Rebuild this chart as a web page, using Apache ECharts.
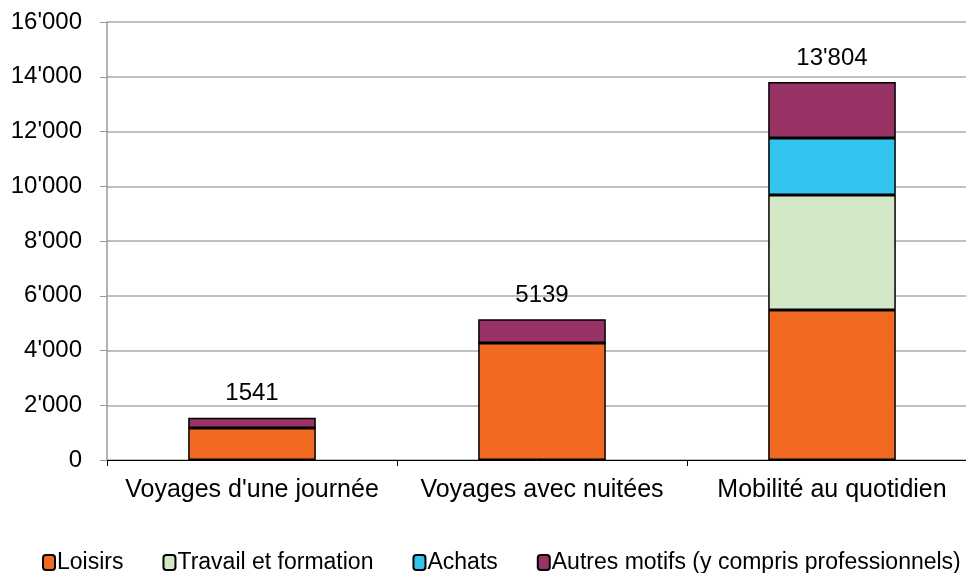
<!DOCTYPE html>
<html>
<head>
<meta charset="utf-8">
<script src="https://cdn.jsdelivr.net/npm/echarts@6/dist/echarts.min.js"></script>
<style>
  html, body { margin: 0; padding: 0; background: #fff; }
  #main { width: 966px; height: 573px; }
</style>
</head>
<body>
<div id="main"></div>
<script>
var categories = ["Voyages d'une journée", 'Voyages avec nuitées', 'Mobilité au quotidien']
var loisirs = [1170, 4270, 5480]
var travail = [0, 0, 4200]
var achats = [0, 0, 2080]
var autres = [371, 869, 2044]
var totalLabels = ['1541', '5139', "13'804"]
var yTicks = [0, 2000, 4000, 6000, 8000, 10000, 12000, 14000, 16000]

var font = 'Liberation Sans, Arial, sans-serif'

function fmt(v) {
  if (v < 1000) return String(v)
  var s = String(v)
  return s.slice(0, s.length - 3) + "'" + s.slice(s.length - 3)
}

var myChart = echarts.init(document.getElementById('main'))

var barStyle = { borderColor: '#000', borderWidth: 1.5 }

var option = {
  animation: false,
  textStyle: { fontFamily: font, color: '#000' },
  grid: { left: 107, width: 870, top: 22, bottom: 113, outerBoundsMode: 'none', containLabel: false },
  legend: {
    left: 37,
    top: 546,
    itemWidth: 12,
    itemHeight: 15,
    itemGap: 39,
    textStyle: { fontSize: 23, color: '#000', fontFamily: font, padding: [0, 0, 0, -3] },
    data: ['Loisirs', 'Travail et formation', 'Achats', 'Autres motifs (y compris professionnels)']
  },
  xAxis: {
    type: 'category',
    data: categories,
    axisLine: { lineStyle: { color: '#000', width: 1 } },
    axisTick: { show: true, length: 6, lineStyle: { color: '#000' } },
    axisLabel: { fontSize: 25, color: '#000', margin: 18, interval: 0, hideOverlap: false }
  },
  yAxis: {
    type: 'value',
    min: yTicks[0],
    max: yTicks[yTicks.length - 1],
    interval: 2000,
    axisLine: { show: true, lineStyle: { color: '#999', width: 1.5 } },
    axisTick: { show: true, length: 7, lineStyle: { color: '#999' } },
    splitLine: { lineStyle: { color: '#aaa', width: 1.5 } },
    axisLabel: { fontSize: 24, color: '#000', margin: 25, formatter: fmt }
  },
  series: [
    { name: 'Loisirs', type: 'bar', stack: 'a', barWidth: '44%', data: loisirs,
      itemStyle: Object.assign({ color: '#F26A22' }, barStyle) },
    { name: 'Travail et formation', type: 'bar', stack: 'a', data: travail,
      itemStyle: Object.assign({ color: '#D3E8C6' }, barStyle) },
    { name: 'Achats', type: 'bar', stack: 'a', data: achats,
      itemStyle: Object.assign({ color: '#33C4F0' }, barStyle) },
    { name: 'Autres motifs (y compris professionnels)', type: 'bar', stack: 'a', data: autres,
      itemStyle: Object.assign({ color: '#993366' }, barStyle),
      label: {
        show: true, position: 'top', distance: 12, fontSize: 24, color: '#000',
        formatter: function(p) { return totalLabels[p.dataIndex] }
      } }
  ]
}

myChart.setOption(option)
</script>
</body>
</html>
